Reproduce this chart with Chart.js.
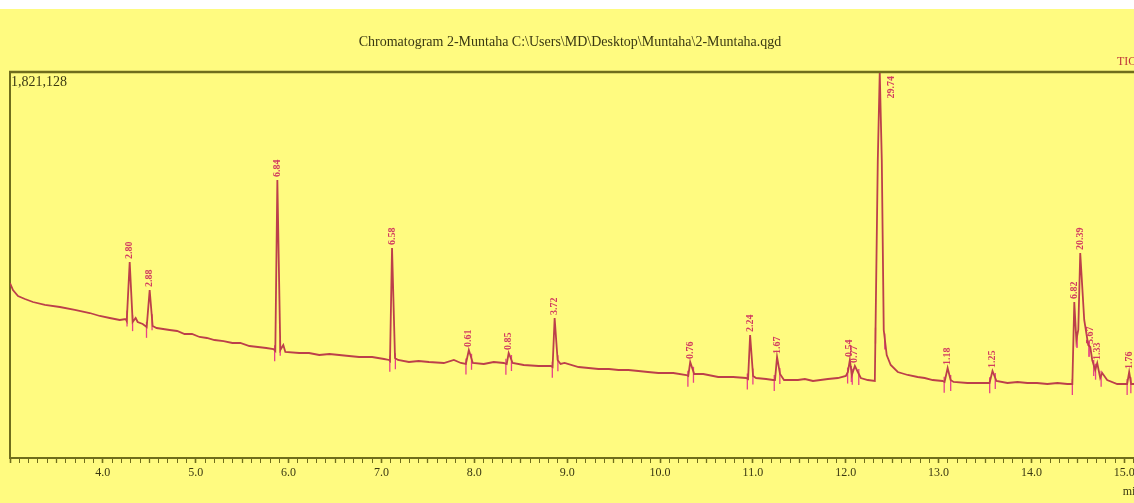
<!DOCTYPE html>
<html><head><meta charset="utf-8">
<script src="https://cdn.jsdelivr.net/npm/chart.js@4.4.1/dist/chart.umd.min.js"></script>
<style>
html,body{margin:0;padding:0;overflow:hidden;background:#fffb80;width:1134px;height:503px;}
#wrap{position:absolute;left:0;top:0;width:1180px;height:503px;}
</style></head><body>
<div id="wrap"><canvas id="c" width="1180" height="503"></canvas></div>
<script>
// ---- data ----
const titleText = 'Chromatogram 2-Muntaha C:\\Users\\MD\\Desktop\\Muntaha\\2-Muntaha.qgd';
const yMax = 1821128;
const xMin = 3.0;
const xMax = 15.567;
const xTickValues = [4,5,6,7,8,9,10,11,12,13,14,15];
const xTickLabels = ['4.0','5.0','6.0','7.0','8.0','9.0','10.0','11.0','12.0','13.0','14.0','15.0'];

const traceTimes = [
 3.000,3.032,3.086,3.161,3.247,3.376,3.537,3.698,3.859,3.967,4.074,4.182,4.246,4.257,
 4.289,4.321,4.353,4.375,4.429,4.472,4.504,4.536,4.579,
 4.719,4.800,4.880,4.960,5.041,5.120,5.202,5.300,5.395,5.480,5.578,5.670,5.760,5.836,5.857,5.879,5.911,5.943,5.965,
 6.115,6.220,6.330,6.440,6.545,6.650,6.759,6.900,7.028,7.082,7.092,7.114,7.146,7.178,
 7.296,7.400,7.511,7.672,7.780,7.855,7.909,7.941,7.984,8.102,8.209,8.317,8.349,8.370,8.413,
 8.532,8.693,8.822,8.843,8.865,8.897,8.929,8.972,9.122,9.230,9.337,9.450,9.552,9.660,9.767,9.870,9.982,10.143,10.283,
 10.304,10.325,10.368,10.465,10.626,10.787,10.927,10.948,10.970,11.002,11.034,11.142,11.217,
 11.238,11.260,11.292,11.335,11.485,11.560,11.647,11.808,11.915,12.001,12.023,12.044,12.066,12.098,12.130,12.162,12.237,
 12.313,12.345,12.366,12.388,12.409,12.441,12.484,12.560,12.667,12.774,12.850,12.936,13.043,
 13.064,13.097,13.129,13.161,13.311,13.473,13.548,13.580,13.623,13.741,13.850,13.956,14.060,14.171,14.280,14.386,14.429,
 14.440,14.461,14.483,14.504,14.525,14.568,14.611,14.633,14.654,14.686,14.708,14.740,14.762,14.815,14.923,15.009,15.030,15.052,15.073,15.137
];
const traceCounts = [
 825600,792600,764300,750200,736000,721900,712400,698300,684100,670000,660500,651100,655800,646400,
 924700,641600,660500,641600,632200,618100,792600,622800,613300,
 603900,599200,585000,585000,570900,566200,556700,551900,542600,542600,528400,523700,519000,514300,504800,1311600,509500,533100,500100,
 495400,495400,486000,490700,486000,481300,476500,476500,467100,462400,457600,990800,471800,462400,
 452900,457600,452900,448200,462400,448200,443500,509500,448200,443500,452900,448200,443500,495400,448200,
 438800,434100,434100,429300,660500,462400,443500,448200,429300,424600,419900,419900,415200,415200,410500,405700,401000,401000,391600,
 386900,452900,396300,396300,382200,382200,377400,372700,580300,386900,377400,372700,368000,
 368000,476500,396300,368000,368000,372700,363300,372700,377400,386900,405700,462400,391600,434100,405700,377400,368000,
 363300,1406000,1821128,1406000,603900,486000,438800,405700,391600,382200,377400,368000,363300,
 358600,424600,368000,358600,353900,353900,353900,410500,363300,353900,358600,353900,353900,349100,353900,349100,349100,
 349100,736000,556700,603900,967200,651100,533100,523700,462400,415200,448200,377400,401000,368000,349100,349100,349100,405700,349100,349100
];

const peakTimes   = [4.289,4.504,5.879,7.114,7.941,8.370,8.865,10.325,10.970,11.260,12.044,12.098,12.366,13.097,13.580,14.461,14.525,14.633,14.708,15.052];
const peakLabels  = ['2.80','2.88','6.84','6.58','0.61','0.85','3.72','0.76','2.24','1.67','0.54','0.77','29.74','1.18','1.25','6.82','20.39','5.67','1.33','1.76'];
const peakHeights = [924700,792600,1311600,990800,509500,495400,660500,452900,580300,476500,462400,434100,1821128,424600,410500,736000,967200,523700,448200,405700];
const peakStarts  = [4.26,4.47,5.85,7.09,7.91,8.34,8.84,10.30,10.94,11.23,12.02,12.07,12.32,13.06,13.55,14.44,14.49,14.62,14.69,15.03];
const peakEnds    = [4.32,4.53,5.91,7.15,7.97,8.40,8.90,10.36,11.00,11.29,12.06,12.14,12.42,13.13,13.61,14.49,14.62,14.67,14.75,15.07];

// ---- styling ----
const olive = '#6f6d1c';
const textDark = '#3a3812';
const serif = '"Liberation Serif", "DejaVu Serif", serif';

const points = traceTimes.map((t, i) => ({x: t, y: traceCounts[i]}));

function countAt(t) {
  for (let i = 1; i < traceTimes.length; i++) {
    if (traceTimes[i] >= t) {
      const t0 = traceTimes[i-1], t1 = traceTimes[i];
      const f = (t - t0) / (t1 - t0);
      return traceCounts[i-1] + f * (traceCounts[i] - traceCounts[i-1]);
    }
  }
  return traceCounts[traceCounts.length - 1];
}

const bgPlugin = {
  id: 'bg',
  beforeDraw(chart) {
    const ctx = chart.ctx;
    ctx.save();
    ctx.fillStyle = '#fffb80';
    ctx.fillRect(0, 0, chart.width, chart.height);
    ctx.fillStyle = '#ffffff';
    ctx.fillRect(0, 0, chart.width, 9);
    ctx.restore();
  }
};

const annotPlugin = {
  id: 'annot',
  beforeDatasetsDraw(chart) {
    const ctx = chart.ctx, xs = chart.scales.x, ys = chart.scales.y;
    ctx.save();
    ctx.strokeStyle = '#e8408a';
    ctx.lineWidth = 1.3;
    const marks = peakStarts.concat(peakEnds);
    marks.forEach(t => {
      const px = xs.getPixelForValue(t);
      if (px > chart.chartArea.right) return;
      const py = ys.getPixelForValue(countAt(t));
      ctx.beginPath();
      ctx.moveTo(px, py - 5);
      ctx.lineTo(px, py + 11);
      ctx.stroke();
    });
    ctx.restore();
  },
  afterDatasetsDraw(chart) {
    const ctx = chart.ctx, xs = chart.scales.x, ys = chart.scales.y, ca = chart.chartArea;
    ctx.save();
    ctx.font = 'bold 10px ' + serif;
    ctx.fillStyle = '#d23c60';
    ctx.textBaseline = 'middle';
    peakTimes.forEach((t, i) => {
      const px = xs.getPixelForValue(t);
      const py = ys.getPixelForValue(peakHeights[i]);
      const w = ctx.measureText(peakLabels[i]).width;
      ctx.save();
      if (py - 3 - w < ca.top) {
        ctx.translate(px + 12, ca.top + 4 + w);
      } else {
        ctx.translate(px, py - 3);
      }
      ctx.rotate(-Math.PI / 2);
      ctx.textAlign = 'left';
      ctx.fillText(peakLabels[i], 0, 0);
      ctx.restore();
    });
    ctx.restore();
  },
  afterDraw(chart) {
    const ctx = chart.ctx, ca = chart.chartArea;
    ctx.save();
    // top frame line
    ctx.strokeStyle = olive;
    ctx.lineWidth = 2.5;
    ctx.beginPath();
    ctx.moveTo(ca.left - 1, ca.top);
    ctx.lineTo(chart.width, ca.top);
    ctx.stroke();
    // title
    ctx.fillStyle = textDark;
    ctx.font = '14px ' + serif;
    ctx.textAlign = 'center';
    ctx.textBaseline = 'middle';
    ctx.fillText(titleText, 570, 42);
    // max label
    ctx.font = '14px ' + serif;
    ctx.textAlign = 'left';
    ctx.fillText(yMax.toLocaleString('en-US'), ca.left + 1, ca.top + 10);
    // TIC
    ctx.fillStyle = '#c0393a';
    ctx.font = '12px ' + serif;
    ctx.fillText('TIC', 1117, 62);
    // min
    ctx.fillStyle = textDark;
    ctx.textAlign = 'center';
    ctx.fillText('min', 1132, 492);
    ctx.restore();
  }
};

new Chart(document.getElementById('c'), {
  type: 'line',
  data: {
    datasets: [{
      data: points,
      borderColor: '#bc3f4a',
      borderWidth: 1.8,
      pointRadius: 0,
      tension: 0,
      fill: false
    }]
  },
  options: {
    responsive: false,
    animation: false,
    layout: {padding: {left: 10, top: 72, right: 0, bottom: 0}},
    plugins: {legend: {display: false}, tooltip: {enabled: false}, title: {display: false}},
    scales: {
      x: {
        type: 'linear',
        min: xMin,
        max: xMax,
        afterFit: s => { s.height = 45; },
        border: {display: true, color: olive, width: 2},
        grid: {
          drawOnChartArea: false,
          drawTicks: true,
          tickLength: 5,
          tickColor: olive,
          tickWidth: c => {
            const v = c.tick ? c.tick.value : 0;
            const r = Math.round(v * 10);
            return r % 10 === 0 ? 1.6 : (r % 5 === 0 ? 1.3 : 1);
          }
        },
        ticks: {
          stepSize: 0.1,
          autoSkip: false,
          maxRotation: 0,
          minRotation: 0,
          padding: 3,
          color: textDark,
          font: {family: serif, size: 12},
          callback: v => {
            const idx = xTickValues.findIndex(tv => Math.abs(tv - v) < 1e-6);
            return idx >= 0 ? xTickLabels[idx] : '';
          }
        }
      },
      y: {
        min: 0,
        max: yMax,
        afterFit: s => { s.width = 0; },
        border: {display: true, color: olive, width: 2},
        grid: {drawOnChartArea: false, drawTicks: false},
        ticks: {display: false}
      }
    }
  },
  plugins: [bgPlugin, annotPlugin]
});
</script>
</body></html>
